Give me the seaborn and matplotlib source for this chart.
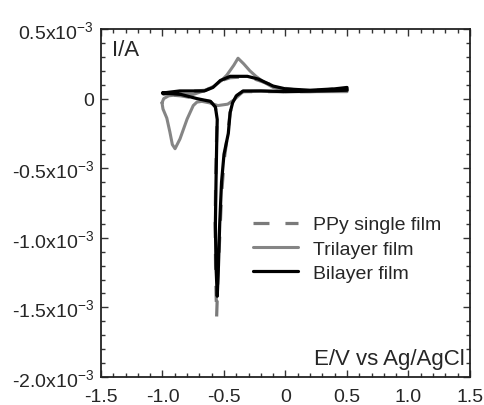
import matplotlib
matplotlib.use("Agg")
import matplotlib.pyplot as plt
import matplotlib.ticker as mticker
import seaborn as sns
import pandas as pd

# potential (V vs Ag/AgCl) and current (in units of 1e-3 A), one closed sweep per film
ppy_e = [-1.0, -0.8, -0.65, -0.58, -0.52, -0.45, -0.35, -0.25, -0.15, -0.05, 0.1, 0.3, 0.5,
         0.5, 0.2, -0.1, -0.3, -0.345, -0.40, -0.43, -0.45, -0.47, -0.50, -0.52, -0.535, -0.55, -0.56,
         -0.568, -0.572, -0.568, -0.562, -0.557, -0.57, -0.61, -0.72, -0.85, -1.0]
ppy_i = [0.03, 0.05, 0.06, 0.09, 0.13, 0.15, 0.155, 0.14, 0.11, 0.08, 0.06, 0.06, 0.08,
         0.06, 0.05, 0.05, 0.05, 0.05, 0.02, -0.03, -0.1, -0.25, -0.45, -0.7, -1.0, -1.3, -1.57,
         -1.25, -0.9, -0.6, -0.35, -0.15, -0.06, -0.02, 0.0, 0.02, 0.03]

tri_e = [-1.004, -0.99, -0.95, -0.85, -0.75, -0.65, -0.58, -0.52, -0.476, -0.42, -0.386, -0.34,
         -0.29, -0.24, -0.18, -0.1, 0.0, 0.2, 0.4, 0.5,
         0.5, 0.2, 0.0, -0.2, -0.345, -0.42, -0.47, -0.55, -0.62, -0.68, -0.72, -0.75, -0.8,
         -0.858, -0.898, -0.92, -0.94, -0.965, -0.996, -1.004]
tri_i = [-0.03, 0.0, 0.02, 0.03, 0.03, 0.06, 0.09, 0.13, 0.17, 0.24, 0.29, 0.25,
         0.2, 0.16, 0.12, 0.08, 0.06, 0.055, 0.06, 0.07,
         0.05, 0.05, 0.05, 0.055, 0.05, -0.01, -0.04, -0.05, -0.03, -0.02, -0.025, -0.05, -0.147,
         -0.29, -0.36, -0.33, -0.24, -0.14, -0.075, -0.03]

bi_e = [-1.0, -0.86, -0.66, -0.59, -0.53, -0.45, -0.31, -0.22, -0.1, 0.0, 0.2, 0.4, 0.5,
        0.5, 0.3, 0.0, -0.2, -0.345, -0.40, -0.43, -0.45, -0.465, -0.50, -0.52, -0.535, -0.545,
        -0.555, -0.565, -0.57, -0.565, -0.56, -0.555, -0.57, -0.61, -0.72, -0.85, -1.0]
bi_i = [0.04, 0.055, 0.055, 0.08, 0.13, 0.16, 0.16, 0.14, 0.09, 0.07, 0.06, 0.07, 0.08,
        0.06, 0.055, 0.05, 0.055, 0.055, 0.02, -0.03, -0.1, -0.25, -0.4, -0.6, -0.9, -1.2,
        -1.42, -1.2, -0.9, -0.6, -0.35, -0.15, -0.06, -0.02, 0.0, 0.03, 0.04]

labels = ["PPy single film", "Trilayer film", "Bilayer film"]

sns.set_style("ticks")
plt.rcParams["font.family"] = ["Liberation Sans", "DejaVu Sans"]
plt.rcParams["mathtext.fontset"] = "custom"
plt.rcParams["mathtext.rm"] = "Liberation Sans"
plt.rcParams["mathtext.it"] = "Liberation Sans:italic"

fig = plt.figure(figsize=(4.85, 4.06), dpi=100)
ax = fig.add_axes([101 / 485, 1 - 378 / 406, 369 / 485, 348 / 406])

tri = pd.DataFrame({"E": tri_e, "I": tri_i})
ppy = pd.DataFrame({"E": ppy_e, "I": ppy_i})
bi = pd.DataFrame({"E": bi_e, "I": bi_i})

sns.lineplot(data=tri, x="E", y="I", sort=False, estimator=None, ax=ax,
             color="#858585", lw=2.2, label=labels[1])
sns.lineplot(data=ppy, x="E", y="I", sort=False, estimator=None, ax=ax,
             color="#7a7a7a", lw=2.3, label=labels[0])
ax.lines[-1].set_dashes((5, 5))
sns.lineplot(data=bi, x="E", y="I", sort=False, estimator=None, ax=ax,
             color="black", lw=2.3, label=labels[2])

ax.set_xlim(-1.5, 1.5)
ax.set_ylim(-2.0, 0.5)
ax.set_xlabel("")
ax.set_ylabel("")

ax.xaxis.set_major_locator(mticker.MultipleLocator(0.5))
ax.xaxis.set_minor_locator(mticker.MultipleLocator(0.1))
ax.yaxis.set_major_locator(mticker.MultipleLocator(0.5))
ax.yaxis.set_minor_locator(mticker.MultipleLocator(0.1))


def xfmt(v, pos):
    return "0" if abs(v) < 1e-9 else f"{v:.1f}"


def yfmt(v, pos):
    return "0" if abs(v) < 1e-9 else f"{v:.1f}x10$^{{-3}}$"


ax.xaxis.set_major_formatter(mticker.FuncFormatter(xfmt))
ax.yaxis.set_major_formatter(mticker.FuncFormatter(yfmt))
ax.tick_params(which="both", direction="in", top=True, right=True, labelsize=14,
               width=1.0, color="#333333")
ax.tick_params(which="major", length=5)
ax.tick_params(axis="y", which="major", pad=5)
ax.tick_params(axis="x", which="major", pad=8)
ax.tick_params(which="minor", length=3)
for s in ax.spines.values():
    s.set_linewidth(1.3)
    s.set_color("#222222")

ax.text(0.03, 0.97, "I/A", transform=ax.transAxes, ha="left", va="top", fontsize=16)
ax.text(0.985, 0.022, "E/V vs Ag/AgCl", transform=ax.transAxes, ha="right", va="bottom",
        fontsize=16)

# legend order as in the reference
handles, labs = ax.get_legend_handles_labels()
order = [labs.index(l) for l in labels]
ax.legend([handles[i] for i in order], [labs[i] for i in order],
          loc="center left", bbox_to_anchor=(0.412, 0.368), frameon=False,
          borderaxespad=0, borderpad=0, handlelength=2.3, handletextpad=0.8,
          labelspacing=0.35, fontsize=14)

fig.savefig("out.png", dpi=100)
